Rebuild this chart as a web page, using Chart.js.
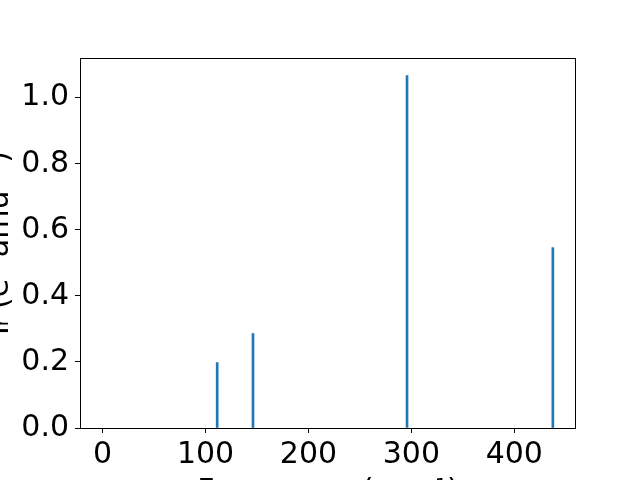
<!DOCTYPE html>
<html>
<head>
<meta charset="utf-8">
<script src="https://cdn.jsdelivr.net/npm/chart.js@4"></script>
<style>
    html, body { margin: 0; padding: 0; background: #fff; overflow: hidden; width: 640px; height: 480px; }
    #myChart { position: absolute; left: -18px; top: 0; }
</style>
</head>
<body>
<canvas id="myChart" width="658" height="510"></canvas>
<script>
// Frequencies (cm^-1) and IR intensities
const frequencies = [111.3, 146.1, 295.8, 437.5];
const intensities = [0.198, 0.286, 1.067, 0.546];
const xTicks = [0, 100, 200, 300, 400];
const yTicks = [0.0, 0.2, 0.4, 0.6, 0.8, 1.0];

const font = { family: 'DejaVu Sans', size: 30 };

// matplotlib-like box around the plot area
const frame = {
    id: 'frame',
    afterDraw(chart) {
        const a = chart.chartArea;
        const c = chart.ctx;
        c.save();
        c.strokeStyle = '#000';
        c.lineWidth = 1;
        c.strokeRect(Math.round(a.left) + 0.5, Math.round(a.top) + 0.5,
            Math.round(a.right - a.left) - 1, Math.round(a.bottom - a.top));
        c.restore();
    }
};

const ctx = document.getElementById('myChart').getContext('2d');
const myChart = new Chart(ctx, {
    type: 'bar',
    data: {
        datasets: [{
            data: frequencies.map((f, i) => ({ x: f, y: intensities[i] })),
            backgroundColor: '#1f77b4',
            borderWidth: 0,
            barThickness: 2,
        }]
    },
    options: {
        responsive: false,
        animation: false,
        devicePixelRatio: 1,
        layout: { padding: { top: 58, right: 64, left: 0, bottom: 0 } },
        plugins: { legend: { display: false }, tooltip: { enabled: false } },
        scales: {
            x: {
                type: 'linear',
                offset: false,
                min: -22,
                max: 460,
                afterBuildTicks: (s) => { s.ticks = xTicks.map(v => ({ value: v })); },
                afterFit: (s) => { s.height = 82; },
                grid: { offset: false, drawOnChartArea: false, tickLength: 5, tickColor: '#000' },
                border: { display: false },
                ticks: { color: '#000', font: font, padding: 4, maxRotation: 0 },
                title: {
                    display: true,
                    text: 'Frequency (cm⁻¹)',
                    color: '#000',
                    font: font,
                    padding: 0,
                },
            },
            y: {
                min: 0,
                max: 1.12,
                afterBuildTicks: (s) => { s.ticks = yTicks.map(v => ({ value: v })); },
                afterFit: (s) => { s.width = 98; },
                grid: { drawOnChartArea: false, tickLength: 5, tickColor: '#000' },
                border: { display: false },
                ticks: { color: '#000', font: font, padding: 6, callback: (v) => v.toFixed(1) },
                title: {
                    display: true,
                    text: 'Iᵣ (e² amu⁻¹)',
                    color: '#000',
                    font: font,
                    padding: 0,
                },
            },
        },
    },
    plugins: [frame],
});
</script>
</body>
</html>
